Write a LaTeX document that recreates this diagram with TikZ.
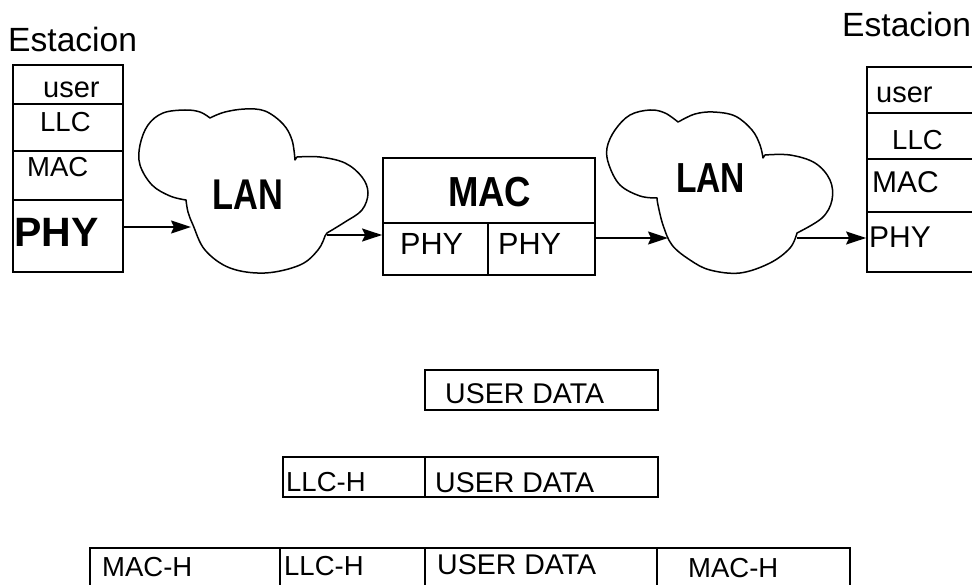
\documentclass[tikz,border=0pt]{standalone}
\usepackage{fontspec}
\setmainfont{Liberation Sans}
\usetikzlibrary{arrows.meta}
\tikzset{
  layerbox/.style={draw, rectangle, inner sep=0pt, line width=1.8pt},
  lbl/.style={anchor=base west, inner sep=0pt, font=\fontsize{27.5}{30}\selectfont},
  cloudline/.style={line width=1.5pt, line join=round},
  arr/.style={line width=1.6pt, -{Stealth[length=20pt,width=13pt,inset=3pt]}},
}
\begin{document}
\begin{tikzpicture}[x=1pt,y=-1pt]
\clip (0,0) rectangle (972,585);
% titles
\node[lbl, font=\fontsize{33.6}{36}\selectfont] (t1) at (8,52) {Estacion};
\node[lbl, font=\fontsize{33.6}{36}\selectfont] (t2) at (842,37) {Estacion};
% left station
\node[layerbox, minimum width=110pt, minimum height=39pt] (luser) at (68,84.5) {};
\node[layerbox, minimum width=110pt, minimum height=47pt] (lllc) at (68,127.5) {};
\node[layerbox, minimum width=110pt, minimum height=49pt] (lmac) at (68,175.5) {};
\node[layerbox, minimum width=110pt, minimum height=72pt] (lphy) at (68,236) {};
\node[lbl, font=\fontsize{29}{32}\selectfont] (luserT) at (43,98) {user};
\node[lbl] (lllcT) at (40,132) {LLC};
\node[lbl] (lmacT) at (27,177) {MAC};
\node[lbl, font=\fontsize{41}{44}\selectfont\bfseries] (lphyT) at (14,247) {PHY};
% right station
\node[layerbox, minimum width=133pt, minimum height=46pt] (ruser) at (933.5,90) {};
\node[layerbox, minimum width=133pt, minimum height=46pt] (rllc) at (933.5,136) {};
\node[layerbox, minimum width=133pt, minimum height=53pt] (rmac) at (933.5,185.5) {};
\node[layerbox, minimum width=133pt, minimum height=60pt] (rphy) at (933.5,242) {};
\node[lbl, font=\fontsize{29}{32}\selectfont] (ruserT) at (876,103) {user};
\node[lbl] (rllcT) at (892,150) {LLC};
\node[lbl, font=\fontsize{30}{33}\selectfont] (rmacT) at (872,193) {MAC};
\node[lbl, font=\fontsize{30}{33}\selectfont] (rphyT) at (869,248) {PHY};
% bridge
\node[layerbox, minimum width=212pt, minimum height=65pt] (bmac) at (489,190.5) {};
\node[layerbox, minimum width=105pt, minimum height=52pt] (bphy1) at (435.5,249) {};
\node[layerbox, minimum width=107pt, minimum height=52pt] (bphy2) at (541.5,249) {};
\node[lbl, font=\fontsize{42}{45}\selectfont\bfseries, xscale=0.87] (bmacT) at (448,207) {MAC};
\node[lbl, font=\fontsize{30.6}{33}\selectfont] (bphy1T) at (400,255) {PHY};
\node[lbl, font=\fontsize{30.6}{33}\selectfont] (bphy2T) at (498,255) {PHY};
% cloud 1
\draw[cloudline] plot[smooth, tension=0.6] coordinates {(186,200) (170,196) (152,185) (140,165) (140,145) (148,125) (163,113) (185,110) (200,112) (210,118)}
  -- plot[smooth, tension=0.6] coordinates {(212,117) (225,112) (245,109) (265,111) (283,124) (292,140) (295,160)}
  -- plot[smooth, tension=0.6] coordinates {(297,157) (320,157) (345,163) (362,177) (368,193) (362,210) (345,222) (327,233)}
  -- plot[smooth, tension=0.6] coordinates {(325,236) (318,250) (300,265) (265,273) (230,268) (205,250) (193,225) (188,212) (186,200)} -- cycle;
\node[lbl, font=\fontsize{43}{46}\selectfont\bfseries, xscale=0.8] (lan1) at (212,210) {LAN};
\coordinate (c1in) at (191,227);
\coordinate (c1out) at (327,235);
% cloud 2
\draw[cloudline] plot[smooth, tension=0.6] coordinates {(657,198) (640,196) (620,185) (609,165) (607,148) (615,130) (630,115) (650,110) (665,113) (678,122)}
  -- plot[smooth, tension=0.6] coordinates {(680,121) (695,114) (713,112) (735,116) (752,130) (760,145) (763,158)}
  -- plot[smooth, tension=0.6] coordinates {(765,155) (790,155) (815,163) (830,180) (832,200) (822,218) (797,233)}
  -- plot[smooth, tension=0.6] coordinates {(797,233) (790,248) (770,263) (740,273) (710,270) (690,260) (672,245) (663,225) (658,205) (657,198)} -- cycle;
\node[lbl, font=\fontsize{42}{45}\selectfont\bfseries, xscale=0.8] (lan2) at (676,193) {LAN};
\coordinate (c2in) at (668,238);
\coordinate (c2out) at (797,238);
% arrows
\draw[arr] (lphy.east |- c1in) -- (c1in);
\draw[arr] (c1out) -- (bphy1.west |- c1out);
\draw[arr] (bphy2.east |- c2in) -- (c2in);
\draw[arr] (c2out) -- (rphy.west |- c2out);
% frames
\node[layerbox, minimum width=233pt, minimum height=40pt] (r1ud) at (541.5,390) {};
\node[lbl, font=\fontsize{28.5}{31}\selectfont] (r1udT) at (445,403) {USER DATA};
\node[layerbox, minimum width=142pt, minimum height=40pt] (r2llc) at (354,477) {};
\node[layerbox, minimum width=233pt, minimum height=40pt] (r2ud) at (541.5,477) {};
\node[lbl] (r2llcT) at (286,491) {LLC-H};
\node[lbl, font=\fontsize{28.5}{31}\selectfont] (r2udT) at (435,492) {USER DATA};
\node[layerbox, minimum width=190pt, minimum height=50pt] (r3mac1) at (185,573) {};
\node[layerbox, minimum width=145pt, minimum height=50pt] (r3llc) at (352.5,573) {};
\node[layerbox, minimum width=232pt, minimum height=50pt] (r3ud) at (541,573) {};
\node[layerbox, minimum width=193pt, minimum height=50pt] (r3mac2) at (753.5,573) {};
\node[lbl] (r3mac1T) at (102,576) {MAC-H};
\node[lbl] (r3llcT) at (284,575) {LLC-H};
\node[lbl, font=\fontsize{28.5}{31}\selectfont] (r3udT) at (437,574) {USER DATA};
\node[lbl] (r3mac2T) at (688,577) {MAC-H};
\end{tikzpicture}
\end{document}
